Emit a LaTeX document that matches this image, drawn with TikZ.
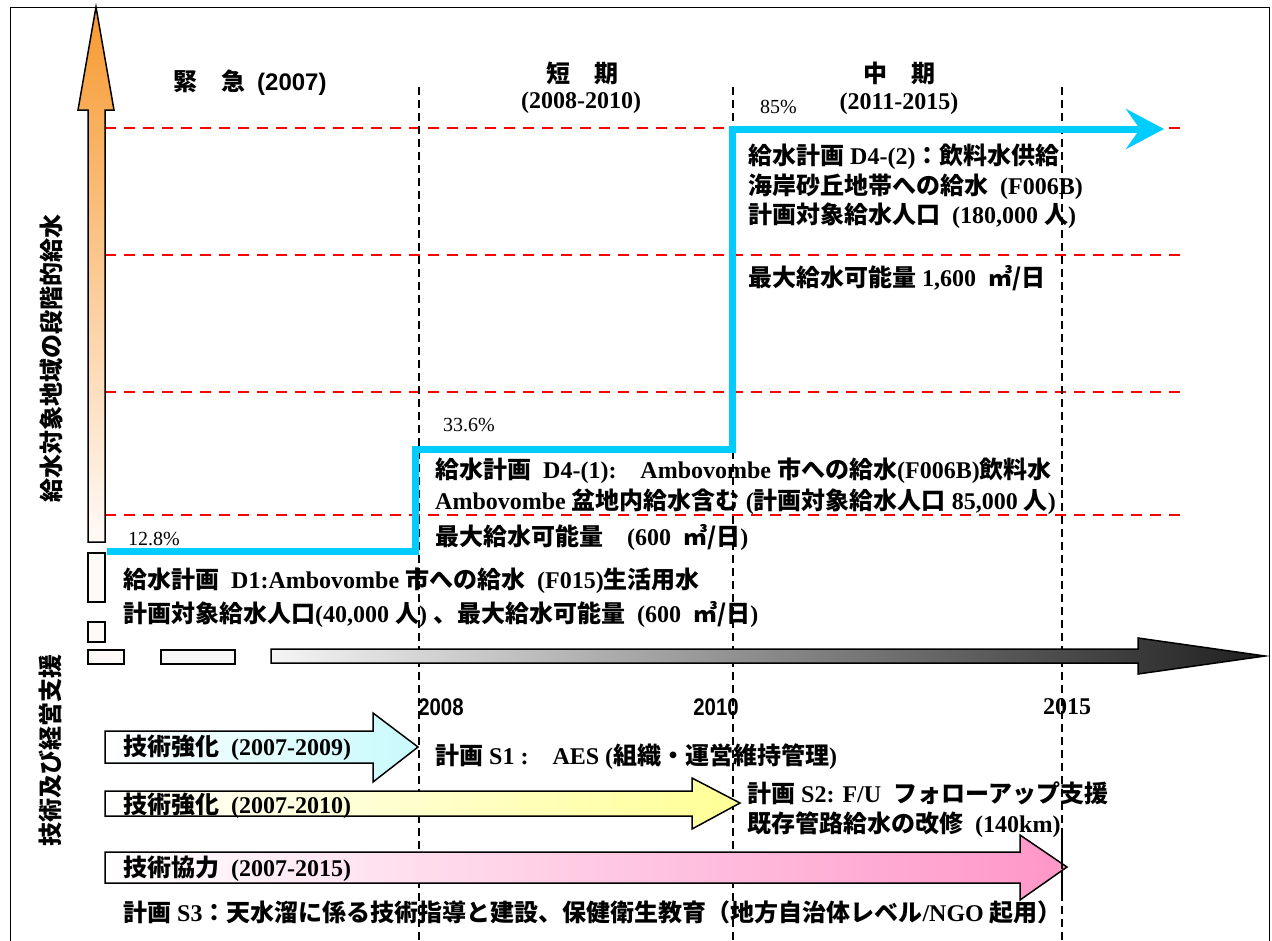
\documentclass[tikz,border=0pt]{standalone}
\usepackage{fontspec}
\setmainfont{Liberation Serif}
\newfontfamily\jp{Noto Sans CJK JP}
\newfontfamily\arialf{Liberation Sans}
\usetikzlibrary{arrows.meta}
\newcommand\J[1]{{\jp\bfseries #1}}
\definecolor{cyanline}{RGB}{0,204,255}
\definecolor{orangetop}{RGB}{247,154,48}
\definecolor{palebox}{RGB}{255,250,248}
\definecolor{lcyan}{RGB}{200,250,252}
\definecolor{lyellow}{RGB}{255,255,150}
\definecolor{lpink}{RGB}{255,150,200}
\begin{document}
\begin{tikzpicture}[x=1pt,y=-1pt,
  txt/.style={anchor=west, inner sep=0pt, font=\fontsize{24}{28}\selectfont\bfseries},
  stxt/.style={anchor=west, inner sep=0pt, font=\fontsize{24}{28}\selectfont\bfseries},
  pct/.style={anchor=west, inner sep=0pt, font=\fontsize{20}{24}\selectfont},
  head/.style={inner sep=0pt, font=\fontsize{24}{28}\selectfont\bfseries},
  sidelbl/.style={rotate=90, inner sep=0pt, font=\fontsize{24}{28}\selectfont\jp\bfseries},
  reddash/.style={red, line width=2pt, dash pattern=on 11pt off 8pt},
  blackdash/.style={black, line width=1.3pt, dash pattern=on 8pt off 5pt},
  outline/.style={draw=black, line width=1.5pt, line join=miter},
  yearlbl/.style={inner sep=0pt, font=\fontsize{24}{28}\selectfont\bfseries}]
\useasboundingbox (0,0) rectangle (1272,940);
\clip (0,0) rectangle (1272,940);
\fill[white] (0,0) rectangle (1272,940);
% frame
\draw[line width=1pt] (10,7) rectangle (1269,960);
% red dashed levels
\foreach \yy in {128,255,392,515} \draw[reddash] (105,\yy) -- (1182,\yy);
% black dashed year lines
\foreach \xx in {419,733,1062} \draw[blackdash] (\xx,87) -- (\xx,940);
% orange vertical arrow
\shade[top color=orangetop, bottom color=palebox] (88,542) -- (88,110) -- (78,110) -- (96,7) -- (114,110) -- (105,110) -- (105,542) -- cycle;
\draw[outline] (88,542) -- (88,110) -- (78,110) -- (96,7) -- (114,110) -- (105,110) -- (105,542) -- cycle;
% small boxes
\draw[outline, fill=palebox] (88,553) rectangle (105,602);
\draw[outline, fill=palebox] (88,622) rectangle (105,642);
\draw[outline, fill=palebox] (88,650) rectangle (124,664);
\draw[outline, fill=black!3] (161,650) rectangle (235,664);
% gray time arrow
\shade[left color=black!4, right color=black!88] (271,649) -- (1138,649) -- (1138,638) -- (1265,656) -- (1138,674) -- (1138,663) -- (271,663) -- cycle;
\draw[outline] (271,649) -- (1138,649) -- (1138,638) -- (1265,656) -- (1138,674) -- (1138,663) -- (271,663) -- cycle;
% cyan step line
\coordinate (c0) at (107,551);
\coordinate (c1) at (415,551);
\coordinate (c2) at (415,449);
\coordinate (c3) at (732,449);
\coordinate (c4) at (732,129);
\coordinate (c5) at (1164,129);
\draw[cyanline, line width=7pt, line join=miter, -{Stealth[length=38pt, width=40pt, inset=14pt]}] (c0) -- (c1) -- (c2) -- (c3) -- (c4) -- (c5);
% bottom arrows
\shade[left color=white, right color=lcyan] (105,731) -- (373,731) -- (373,713) -- (418,747) -- (373,782) -- (373,763) -- (105,763) -- cycle;
\draw[outline] (105,731) -- (373,731) -- (373,713) -- (418,747) -- (373,782) -- (373,763) -- (105,763) -- cycle;
\shade[left color=white, right color=lyellow] (105,791) -- (692,791) -- (692,778) -- (740,803) -- (692,829) -- (692,816) -- (105,816) -- cycle;
\draw[outline] (105,791) -- (692,791) -- (692,778) -- (740,803) -- (692,829) -- (692,816) -- (105,816) -- cycle;
\shade[left color=white, right color=lpink] (105,852) -- (1020,852) -- (1020,835) -- (1067,867) -- (1020,900) -- (1020,883) -- (105,883) -- cycle;
\draw[outline] (105,852) -- (1020,852) -- (1020,835) -- (1067,867) -- (1020,900) -- (1020,883) -- (105,883) -- cycle;
% redraw 2015 line over pink head
\draw[blackdash] (1062,835) -- (1062,900);
% phase headings
\node[head, anchor=west] (ph1) at (173,83) {\J{緊　急}\ \ {\arialf\bfseries (2007)}};
\node[head] (ph2) at (582,73) {\J{短　期}};
\node[head] (ph2y) at (581,103) {(2008-2010)};
\node[head] (ph3) at (899,73) {\J{中　期}};
\node[head] (ph3y) at (899,104) {(2011-2015)};
% percentages
\node[pct] (p85) at (760,107) {85\%};
\node[pct] (p336) at (443,425) {33.6\%};
\node[pct] (p128) at (128,539) {12.8\%};
% D4-(2)
\node[txt] (d42a) at (748,157) {\J{給水計画} D4-(2)\J{：飲料水供給}};
\node[txt] (d42b) at (748,187) {\J{海岸砂丘地帯への給水}\ \ (F006B)};
\node[txt] (d42c) at (748,216) {\J{計画対象給水人口}\ \ (180,000 \J{人})};
\node[txt] (d42d) at (748,278) {\J{最大給水可能量} 1,600\ \ \J{㎥/日}};
% D4-(1)
\node[txt] (d41a) at (435,471) {\J{給水計画}\ \ D4-(1):\ \ \ \ Ambovombe \J{市への給水}(F006B)\J{飲料水}};
\node[txt] (d41b) at (435,502) {Ambovombe \J{盆地内給水含む}\ (\J{計画対象給水人口} 85,000 \J{人})};
\node[txt] (d41c) at (435,538) {\J{最大給水可能量}\ \ \ \ (600\ \ \J{㎥/日})};
% D1
\node[txt] (d1a) at (123,581) {\J{給水計画}\ \ D1:Ambovombe \J{市への給水}\ \ (F015)\J{生活用水}};
\node[txt] (d1b) at (123,615) {\J{計画対象給水人口}(40,000 \J{人}) \J{、最大給水可能量}\ \ (600\ \ \J{㎥/日})};
% side labels
\node[sidelbl] (side1) at (51,358) {給水対象地域の段階的給水};
\node[sidelbl] (side2) at (50,750) {技術及び経営支援};
% year labels
\node[yearlbl] (y2008) at (441,707) {\scalebox{0.85}[1]{\arialf\bfseries 2008}};
\node[yearlbl] (y2010) at (716,707) {\scalebox{0.85}[1]{\arialf\bfseries 2010}};
\node[yearlbl] (y2015) at (1067,707) {2015};
% support texts
\node[stxt] (t1) at (123,748) {\J{技術強化}\ \ (2007-2009)};
\node[stxt] (t2) at (123,806) {\J{技術強化}\ \ (2007-2010)};
\node[stxt] (t3) at (123,869) {\J{技術協力}\ \ (2007-2015)};
\node[stxt] (s1) at (435,757) {\J{計画} S1 :\ \ \ \ AES (\J{組織・運営維持管理})};
\node[stxt] (s2a) at (747,793) {\J{計画} S2: F/U\ \ \J{フォローアップ支援}};
\node[stxt] (s2b) at (747,825) {\J{既存管路給水の改修}\ \ (140km)};
\node[stxt] (s3) at (123,912) {\J{計画} S3\J{：天水溜に係る技術指導と建設、保健衛生教育（地方自治体レベル}/NGO \J{起用）}};
\end{tikzpicture}
\end{document}
